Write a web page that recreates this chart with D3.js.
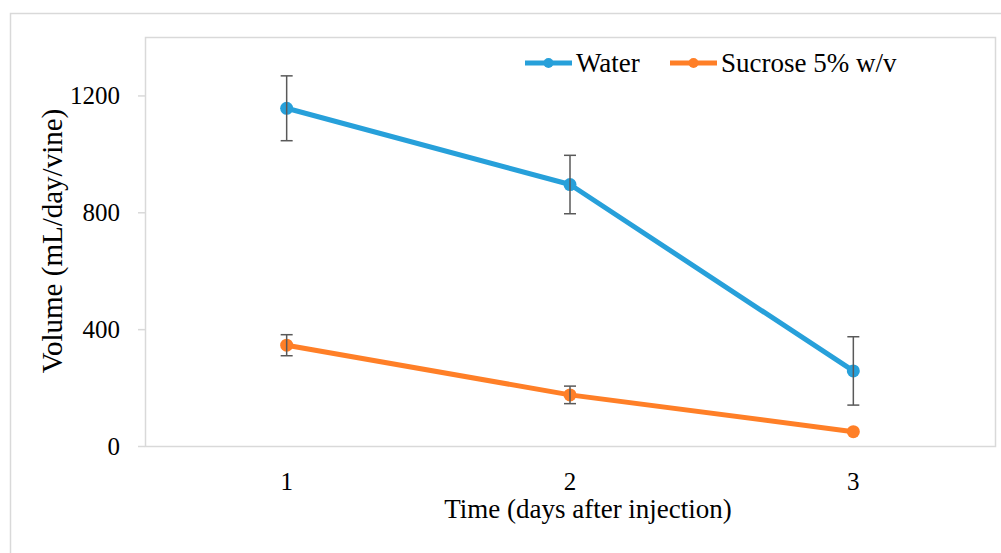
<!DOCTYPE html>
<html>
<head>
<meta charset="utf-8">
<script src="https://cdn.jsdelivr.net/npm/d3@7"></script>
<style>
  body { margin: 0; background: #fff; }
  text { font-family: "Liberation Serif", "Times New Roman", serif; fill: #000; }
</style>
</head>
<body>
<script>
// data
const days = ["1", "2", "3"];
const waterMean = [1156, 895, 257];
const waterErr = [111, 100, 117];
const sucroseMean = [345, 175, 49];
const sucroseErr = [36, 30, 8];
const yTicks = [0, 400, 800, 1200];

const series = [
  { name: "Water", color: "#27A0DA", mean: waterMean, err: waterErr },
  { name: "Sucrose 5% w/v", color: "#FF7F27", mean: sucroseMean, err: sucroseErr }
];

const width = 1001;
const height = 553;
const margin = { top: 37, right: 6, bottom: 107, left: 145 };

const svg = d3.select("body")
  .append("svg")
  .attr("width", width)
  .attr("height", height);

// outer frame
svg.append("rect")
  .attr("x", 10.5).attr("y", 13.5)
  .attr("width", 1000).attr("height", 600)
  .attr("fill", "none")
  .attr("stroke", "#d9d9d9")
  .attr("stroke-width", 1.5);

const x = d3.scaleBand()
  .domain(days)
  .range([margin.left, width - margin.right]);

const y = d3.scaleLinear()
  .domain([0, 1400])
  .range([height - margin.bottom, margin.top]);

// plot area border
svg.append("rect")
  .attr("x", margin.left + 0.5)
  .attr("y", margin.top + 0.5)
  .attr("width", width - margin.right - margin.left)
  .attr("height", y(0) - margin.top)
  .attr("fill", "none")
  .attr("stroke", "#d9d9d9")
  .attr("stroke-width", 1.5);

// y axis
const yAxis = svg.append("g")
  .attr("transform", `translate(${margin.left}, 0)`)
  .call(d3.axisLeft(y).tickValues(yTicks).tickSize(7).tickPadding(18).tickFormat(d3.format("d")));
yAxis.select(".domain").remove();
yAxis.selectAll("line").attr("stroke", "#d9d9d9").attr("stroke-width", 1.5);
yAxis.selectAll("text").attr("font-size", 25).attr("font-family", "Liberation Serif");

// x axis
const xAxis = svg.append("g")
  .attr("transform", `translate(0, ${y(0)})`)
  .call(d3.axisBottom(x).tickSize(0).tickPadding(26));
xAxis.select(".domain").remove();
xAxis.selectAll("text").attr("font-size", 25).attr("font-family", "Liberation Serif");

// axis titles
svg.append("text")
  .attr("x", 588).attr("y", 518)
  .attr("text-anchor", "middle")
  .attr("font-size", 27)
  .text("Time (days after injection)");

svg.append("text")
  .attr("transform", "translate(62, 241) rotate(-90)")
  .attr("text-anchor", "middle")
  .attr("font-size", 29)
  .text("Volume (mL/day/vine)");

const cx = d => x(d) + x.bandwidth() / 2;

// lines + markers
series.forEach(s => {
  const pts = days.map((d, i) => ({ d, v: s.mean[i], e: s.err[i] }));

  svg.append("path")
    .datum(pts)
    .attr("fill", "none")
    .attr("stroke", s.color)
    .attr("stroke-width", 5)
    .attr("stroke-linejoin", "round")
    .attr("d", d3.line().x(p => cx(p.d)).y(p => y(p.v)));

  svg.selectAll(null)
    .data(pts)
    .enter()
    .append("circle")
    .attr("cx", p => cx(p.d))
    .attr("cy", p => y(p.v))
    .attr("r", 6.5)
    .attr("fill", s.color);
});

// error bars on top
series.forEach(s => {
  const pts = days.map((d, i) => ({ d, v: s.mean[i], e: s.err[i] }));
  const g = svg.append("g").attr("stroke", "#595959").attr("stroke-width", 1.5);
  pts.forEach(p => {
    const px = cx(p.d);
    if (p.e < 15) return; // hidden behind marker in the original
    g.append("line").attr("x1", px).attr("x2", px).attr("y1", y(p.v + p.e)).attr("y2", y(p.v - p.e));
    g.append("line").attr("x1", px - 6).attr("x2", px + 6).attr("y1", y(p.v + p.e)).attr("y2", y(p.v + p.e));
    g.append("line").attr("x1", px - 6).attr("x2", px + 6).attr("y1", y(p.v - p.e)).attr("y2", y(p.v - p.e));
  });
});

// legend
const legendX = [525, 670];
series.forEach((s, i) => {
  const lg = svg.append("g").attr("transform", `translate(${legendX[i]}, 63)`);
  lg.append("line").attr("x1", 0).attr("x2", 47).attr("stroke", s.color).attr("stroke-width", 5);
  lg.append("circle").attr("cx", 23.5).attr("r", 5).attr("fill", s.color);
  lg.append("text").attr("x", 51).attr("y", 9).attr("font-size", 27).text(s.name);
});
</script>
</body>
</html>
